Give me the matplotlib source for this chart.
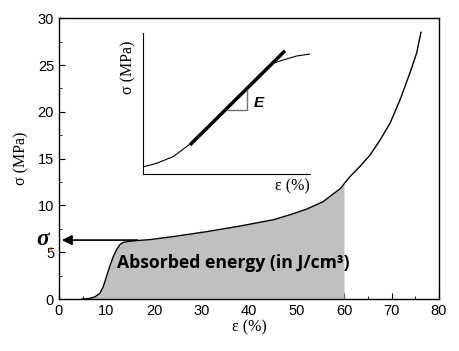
import numpy as np
import matplotlib
matplotlib.use('Agg')
import matplotlib.pyplot as plt

# main stress-strain curve
strain = [4.8, 6.5, 7.6, 8.6, 9.3, 10.0, 10.7, 11.4, 12.1, 12.8, 13.5, 14.6, 16.4, 19.2,
          24.1, 31.1, 38.1, 45.1, 48.6, 52.1, 55.6, 59.2, 61.3, 63.4, 65.5, 67.6, 69.7,
          71.8, 73.9, 75.3, 76.2]
stress = [0.0, 0.07, 0.25, 0.6, 1.3, 2.4, 3.5, 4.5, 5.25, 5.8, 6.05, 6.15, 6.25, 6.35,
          6.68, 7.2, 7.8, 8.47, 9.0, 9.6, 10.4, 11.8, 13.1, 14.2, 15.4, 17.0, 18.8,
          21.3, 24.2, 26.3, 28.5]
fill_end = 60
sigma_s = 6.3
arrow_from = 16.5
arrow_to = 0.6

# inset schematic, in inset axes fraction
ins_x = [0.0, 0.082, 0.181, 0.281, 0.50, 0.72, 0.78, 0.84, 0.92, 1.0]
ins_y = [0.05, 0.076, 0.123, 0.212, 0.463, 0.718, 0.785, 0.809, 0.837, 0.851]
tang_x = [0.281, 0.85]
tang_y = [0.206, 0.874]
tri_x = [0.50, 0.625, 0.625]
tri_y = [0.454, 0.454, 0.596]

fig = plt.figure(figsize=(4.59, 3.51), dpi=100)
ax = fig.add_axes([0.1285, 0.148, 0.828, 0.8])

ax.plot(strain, stress, color='black', lw=1.0, zorder=3)
xs = np.array(strain)
ys = np.array(stress)
m = xs <= fill_end
fx = np.append(xs[m], fill_end)
fy = np.append(ys[m], np.interp(fill_end, xs, ys))
ax.fill_between(fx, 0, fy, color='#c0c0c0', lw=0, zorder=2)

ax.annotate('', xy=(arrow_to, sigma_s), xytext=(arrow_from, sigma_s),
            arrowprops=dict(arrowstyle='-|>', color='black', lw=1.2,
                            mutation_scale=15, shrinkA=0, shrinkB=0), zorder=4)
ax.text(-2.0, sigma_s + 0.1, 'σ', fontsize=17, ha='right', va='center',
        family='Liberation Serif', fontstyle='italic', fontweight='bold')
ax.text(-2.1, sigma_s - 1.05, 's', fontsize=7, color='#c87020', ha='left', va='center',
        family='Liberation Serif', fontweight='bold')
ax.text(12.2, 3.85, 'Absorbed energy (in J/cm³)', fontsize=12.7, fontweight='bold',
        family='Open Sans', va='center', ha='left', zorder=5)

ax.set_xlim(0, 80)
ax.set_ylim(0, 30)
ax.set_xticks(range(0, 81, 10))
ax.set_xticks(range(5, 80, 10), minor=True)
ax.set_yticks(range(0, 31, 5))
ax.set_yticks(np.arange(2.5, 30, 5), minor=True)
ax.tick_params(which='both', direction='in', top=False, right=False, labelsize=10.5)
ax.tick_params(which='major', length=4)
ax.tick_params(which='minor', length=2.5)
for lab in ax.get_xticklabels() + ax.get_yticklabels():
    lab.set_family('Liberation Sans')
ax.set_xlabel('ε (%)', family='Liberation Serif', fontsize=11.5, labelpad=1)
ax.set_ylabel('σ (MPa)', family='Liberation Serif', fontsize=11.5, labelpad=6)
for s in ax.spines.values():
    s.set_linewidth(1.0)

# inset
ins = fig.add_axes([0.3115, 0.5043, 0.364, 0.4017])
ins.plot(ins_x, ins_y, color='black', lw=0.8)
ins.plot(tang_x, tang_y, color='black', lw=2.5, solid_capstyle='butt')
ins.plot(tri_x, tri_y, color='#707070', lw=1.0)
ins.text(0.66, 0.50, 'E', fontsize=11, fontstyle='italic', fontweight='bold',
         family='Liberation Sans', va='center')
ins.set_xlim(0, 1)
ins.set_ylim(0, 1)
ins.set_xticks([])
ins.set_yticks([])
ins.spines['top'].set_visible(False)
ins.spines['right'].set_visible(False)
ins.patch.set_alpha(0)
ins.text(1.0, -0.03, 'ε (%)', transform=ins.transAxes, ha='right', va='top',
         family='Liberation Serif', fontsize=11.5)
ins.text(-0.04, 0.76, 'σ (MPa)', transform=ins.transAxes, ha='right', va='center',
         rotation=90, family='Liberation Serif', fontsize=11.5)

fig.savefig('out.png', dpi=100)
